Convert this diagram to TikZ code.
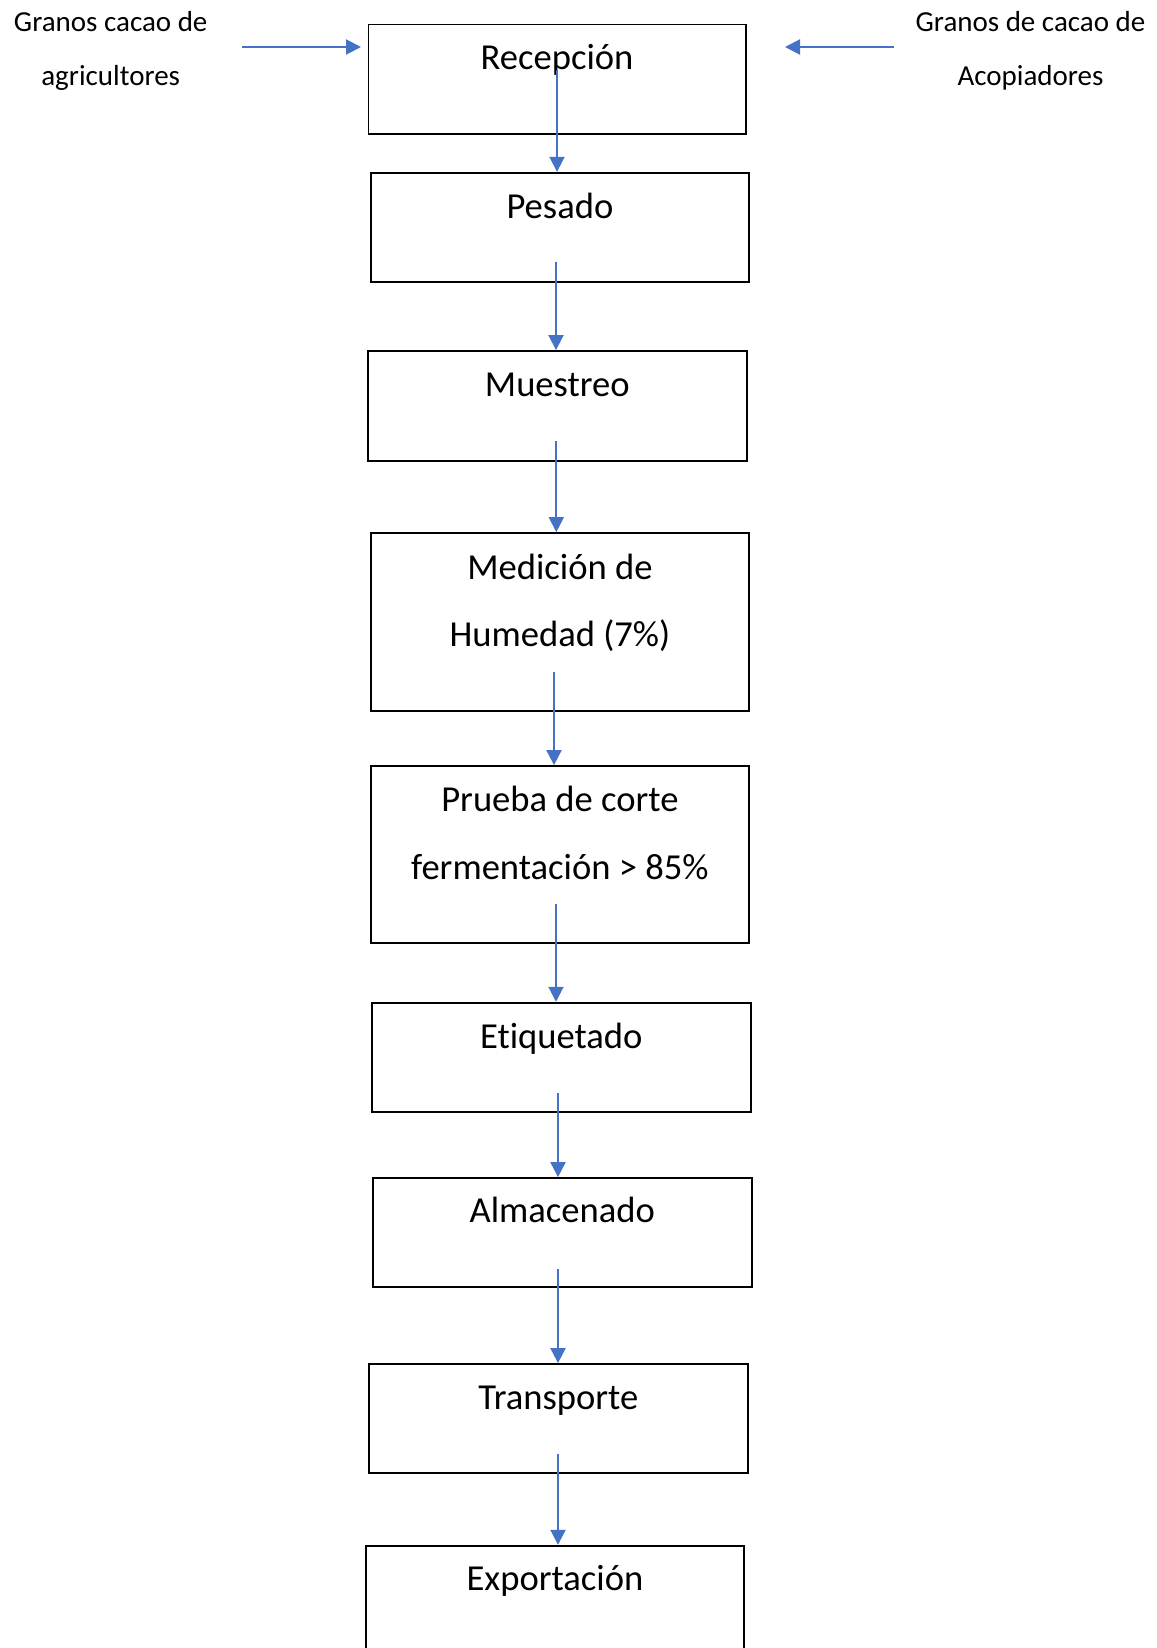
\documentclass[tikz,border=0pt]{standalone}
\usepackage{fontspec}
\setmainfont{Carlito}[Ligatures={NoCommon}]
\usetikzlibrary{arrows.meta}
\definecolor{arrblue}{HTML}{4472C4}
\begin{document}
\begin{tikzpicture}[x=1pt,y=-1pt,
  box/.style={draw=black,line width=1.8pt,rectangle,inner sep=0pt},
  boxtxt/.style={anchor=base,inner sep=0pt,font=\fontsize{36.6}{67.7}\selectfont,align=center},
  sidetxt/.style={anchor=base,inner sep=0pt,font=\fontsize{29}{53.7}\selectfont,align=center},
  arr/.style={draw=arrblue,line width=2pt,-{Triangle[width=15pt,length=15pt]}}]
\clip (0,0) rectangle (1156,1648);
\fill[white] (0,0) rectangle (1156,1648);
% boxes
\node[box,minimum width=377.5pt,minimum height=109.5pt] (b1) at (557.25,79.25) {};
\node[box,minimum width=378.3pt,minimum height=109pt] (b2) at (559.9,227.2) {};
\node[box,minimum width=378.7pt,minimum height=109.7pt] (b3) at (557.3,405.8) {};
\node[box,minimum width=378.3pt,minimum height=178pt] (b4) at (559.9,622) {};
\node[box,minimum width=378.3pt,minimum height=177pt] (b5) at (559.9,854.5) {};
\node[box,minimum width=378.7pt,minimum height=109.3pt] (b6) at (561.3,1057.3) {};
\node[box,minimum width=378.7pt,minimum height=109pt] (b7) at (562.3,1232.5) {};
\node[box,minimum width=378.7pt,minimum height=109pt] (b8) at (558.3,1418.5) {};
\node[box,minimum width=378pt,minimum height=109pt] (b9) at (555,1600.2) {};
% box texts (base = baseline of last line)
\node[boxtxt] (t1) at (557,69.3) {Recepción};
\node[boxtxt] (t2) at (559.9,218.3) {Pesado};
\node[boxtxt] (t3) at (557.3,396.7) {Muestreo};
\node[boxtxt] (t4) at (559.9,646.7) {Medición de\\Humedad (7\%)};
\node[boxtxt] (t5) at (559.9,879.3) {Prueba de corte\\fermentación > 85\%};
\node[boxtxt] (t6) at (561.3,1048.3) {Etiquetado};
\node[boxtxt] (t7) at (562.3,1222.7) {Almacenado};
\node[boxtxt] (t8) at (558.3,1409.3) {Transporte};
\node[boxtxt] (t9) at (555,1590.7) {Exportación};
% side texts
\node[sidetxt] (l1) at (110.7,85.7) {Granos cacao de\\agricultores};
\node[sidetxt] (r1) at (1030.5,85.7) {Granos de cacao de\\Acopiadores};
% side arrows
\coordinate (la) at (242,47);
\coordinate (lb) at (361,47);
\coordinate (ra) at (894,47);
\coordinate (rb) at (785,47);
\draw[arr] (la) -- (lb);
\draw[arr] (ra) -- (rb);
% vertical arrows
\coordinate (s1) at (557,70);
\coordinate (s2) at (556,261.7);
\coordinate (s3) at (556.3,440.7);
\coordinate (s4) at (554,672);
\coordinate (s5) at (556,904);
\coordinate (s6) at (558,1093);
\coordinate (s7) at (558,1269);
\coordinate (s8) at (558,1454);
\draw[arr] (s1) -- (s1 |- b2.north);
\draw[arr] (s2) -- (s2 |- b3.north);
\draw[arr] (s3) -- (s3 |- b4.north);
\draw[arr] (s4) -- (s4 |- b5.north);
\draw[arr] (s5) -- (s5 |- b6.north);
\draw[arr] (s6) -- (s6 |- b7.north);
\draw[arr] (s7) -- (s7 |- b8.north);
\draw[arr] (s8) -- (s8 |- b9.north);
\end{tikzpicture}
\end{document}
